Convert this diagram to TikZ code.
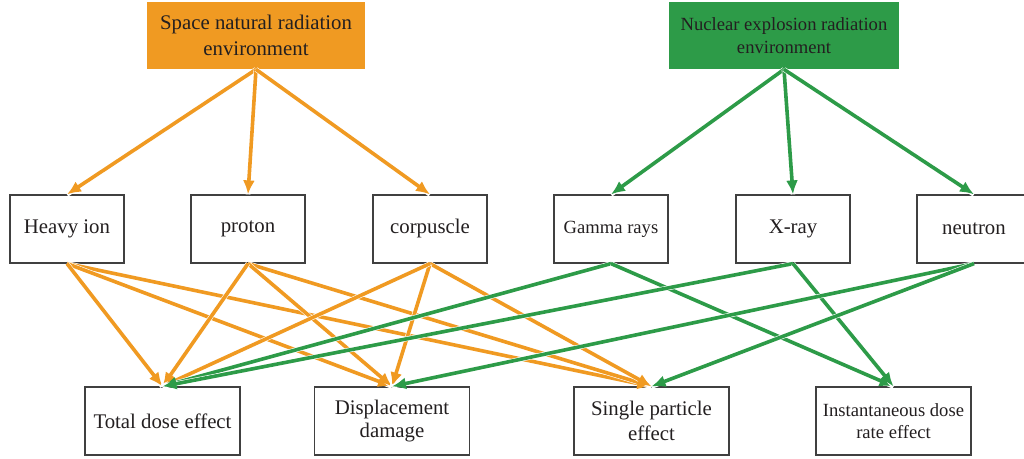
\documentclass[tikz,border=0pt]{standalone}
\usepackage{fontspec}
\setmainfont{Liberation Serif}
\usetikzlibrary{arrows.meta}
\definecolor{spaceorange}{RGB}{240,154,34}
\definecolor{nucgreen}{RGB}{45,155,72}
\definecolor{boxgray}{RGB}{64,64,64}
\definecolor{inkblack}{RGB}{35,31,32}
\begin{document}
\begin{tikzpicture}[x=0.5pt, y=-0.5pt,
  every node/.style={text=inkblack, align=center, inner sep=0pt},
  big/.style={font=\fontsize{10.4}{13}\selectfont},
  small/.style={font=\fontsize{9.3}{11.3}\selectfont},
  env/.style={minimum height=33.5pt},
  item/.style={big, draw=boxgray, line width=0.6pt, minimum width=57pt, minimum height=34pt},
  effect/.style={big, draw=boxgray, line width=0.6pt, minimum width=77.5pt, minimum height=34pt},
  link/.style={line width=1.8pt, -{Latex[length=7pt,width=6pt]},
    preaction={draw=white, line width=2.4pt, -}},
  orangelink/.style={link, spaceorange},
  greenlink/.style={link, nucgreen}]
\useasboundingbox (0,0) rectangle (1024,459);
% sources
\node[env, big, fill=spaceorange, minimum width=109pt] (space) at (256,35.5)
  {Space natural radiation\\environment};
\node[env, small, fill=nucgreen, minimum width=115pt] (nuclear) at (784,35.5)
  {Nuclear explosion radiation\\environment};
% particles
\node[item] (heavy) at (67,229) {Heavy ion};
\node[item] (proton) at (248,229) {proton};
\node[item] (corpuscle) at (430,229) {corpuscle};
\node[item, small] (gamma) at (611,229) {Gamma rays};
\node[item] (xray) at (793,229) {X-ray};
\node[item] (neutron) at (974,229) {neutron};
% effects
\node[effect] (total) at (162.5,421) {Total dose effect};
\node[effect, font=\fontsize{10.4}{11.8}\selectfont] (displace) at (392,421) {Displacement\\damage};
\node[effect, font=\fontsize{10.4}{12.4}\selectfont] (single) at (651.5,421) {Single particle\\effect};
\node[effect, small] (instant) at (893.5,421) {Instantaneous dose\\rate effect};
% space environment
\draw[orangelink] (space.south) -- (heavy.north);
\draw[orangelink] (space.south) -- (proton.north);
\draw[orangelink] (space.south) -- (corpuscle.north);
\draw[orangelink] (heavy.south) -- (single.north);
\draw[orangelink] (heavy.south) -- (displace.north);
\draw[orangelink] (heavy.south) -- (total.north);
\draw[orangelink] (proton.south) -- (single.north);
\draw[orangelink] (proton.south) -- (displace.north);
\draw[orangelink] (proton.south) -- (total.north);
\draw[orangelink] (corpuscle.south) -- (single.north);
\draw[orangelink] (corpuscle.south) -- (displace.north);
\draw[orangelink] (corpuscle.south) -- (total.north);
% nuclear environment
\draw[greenlink] (nuclear.south) -- (gamma.north);
\draw[greenlink] (nuclear.south) -- (xray.north);
\draw[greenlink] (nuclear.south) -- (neutron.north);
\draw[greenlink] (gamma.south) -- (total.north);
\draw[greenlink] (gamma.south) -- (instant.north);
\draw[greenlink] (xray.south) -- (total.north);
\draw[greenlink] (xray.south) -- (instant.north);
\draw[greenlink] (neutron.south) -- (displace.north);
\draw[greenlink] (neutron.south) -- (single.north);
\end{tikzpicture}
\end{document}
